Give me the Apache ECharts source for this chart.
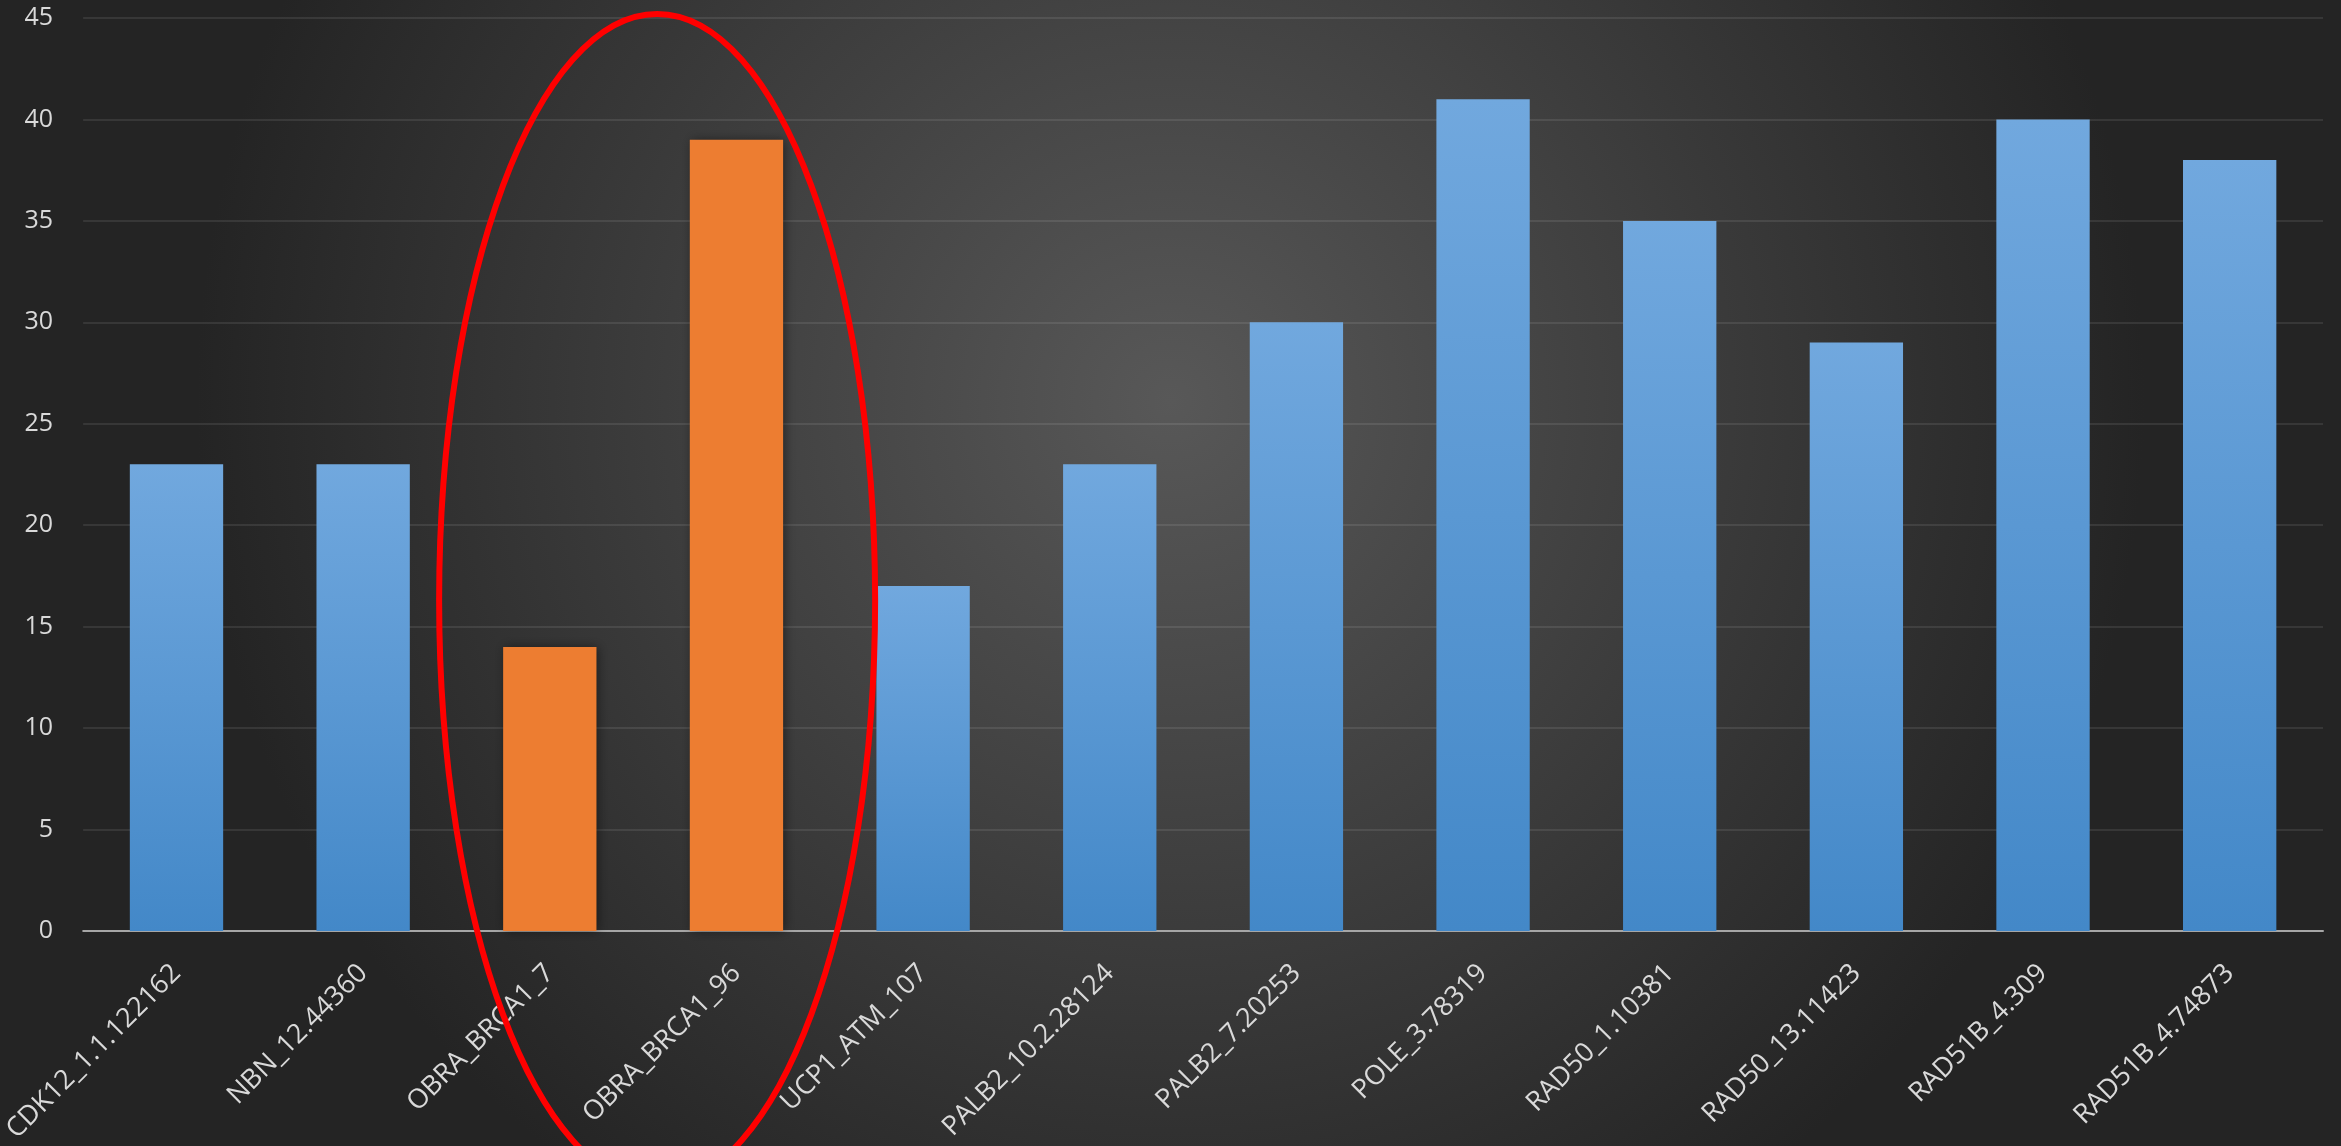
<!DOCTYPE html>
<html>
<head>
<meta charset="utf-8">
<script src="https://cdn.jsdelivr.net/npm/echarts@6/dist/echarts.min.js"></script>
<style>html,body{margin:0;padding:0;background:#2a2a2a;}#c{width:2341px;height:1146px;}</style>
</head>
<body>
<div id="c"></div>
<script>
const categories = ["CDK12_1.1.122162","NBN_12.44360","OBRA_BRCA1_7","OBRA_BRCA1_96","UCP1_ATM_107","PALB2_10.2.28124","PALB2_7.20253","POLE_3.78319","RAD50_1.10381","RAD50_13.11423","RAD51B_4.309","RAD51B_4.74873"];
const values = [23, 23, 14, 39, 17, 23, 30, 41, 35, 29, 40, 38];
const highlighted = [2, 3];
const yTicks = [0, 5, 10, 15, 20, 25, 30, 35, 40, 45];

const chart = echarts.init(document.getElementById('c'));
const blue = new echarts.graphic.LinearGradient(0, 0, 0, 1, [
  {offset: 0, color: '#71a8de'},
  {offset: 1, color: '#4388c8'}
]);
const orange = '#ed7d31';
const font = '"Open Sans", "Noto Sans", sans-serif';
chart.setOption({
  backgroundColor: new echarts.graphic.RadialGradient(0.5, 0.35, 0.85, [
    {offset: 0, color: '#585858'},
    {offset: 1, color: '#242424'}
  ]),
  animation: false,
  grid: {left: 76, right: 18, top: 18, bottom: 215},
  xAxis: {
    type: 'category',
    data: categories,
    axisLine: {lineStyle: {color: '#a6a6a6', width: 2}},
    axisTick: {show: false},
    axisLabel: {rotate: 45, color: '#d9d9d9', fontSize: 27, fontFamily: font, margin: 38, interval: 0}
  },
  yAxis: {
    type: 'value',
    min: yTicks[0],
    max: yTicks[yTicks.length - 1],
    interval: 5,
    axisLine: {show: false},
    axisTick: {show: false},
    splitLine: {lineStyle: {color: 'rgba(255,255,255,0.12)', width: 1.5}},
    axisLabel: {color: '#d9d9d9', fontSize: 25, fontFamily: font, margin: 30}
  },
  series: [{
    type: 'bar',
    barWidth: '50%',
    data: values.map((v, i) => ({
      value: v,
      itemStyle: {color: highlighted.includes(i) ? orange : blue}
    })),
    itemStyle: {
      shadowColor: 'rgba(0,0,0,0.45)',
      shadowBlur: 10,
      shadowOffsetX: 2,
      shadowOffsetY: 0
    }
  }]
});

// red annotation ellipse around the highlighted categories
const p2 = chart.convertToPixel({xAxisIndex: 0, yAxisIndex: 0}, [highlighted[0], 24]);
const p3 = chart.convertToPixel({xAxisIndex: 0, yAxisIndex: 0}, [highlighted[1], 24]);
const cx = (p2[0] + p3[0]) / 2 + 14;
chart.setOption({
  graphic: [{
    type: 'ellipse',
    shape: {cx: cx, cy: 600, rx: 218, ry: 586},
    style: {fill: 'none', stroke: '#ff0000', lineWidth: 6},
    z: 100
  }]
});
</script>
</body>
</html>
